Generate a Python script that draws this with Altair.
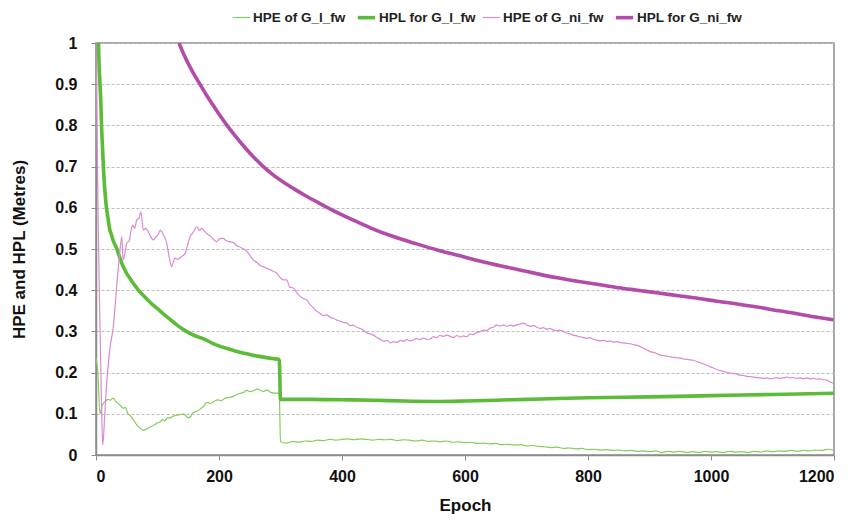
import altair as alt
import pandas as pd

SERIES = ["HPE of G_l_fw", "HPL for G_l_fw", "HPE of G_ni_fw", "HPL for G_ni_fw"]
COLORS = ["#86cc5a", "#5dbb3a", "#d98ad0", "#b34ba8"]
WIDTHS = [1.2, 3.6, 1.2, 3.6]

# HPE of G_l_fw
hpe_l_x = [0, 3, 6.5, 10, 15, 20, 23, 28, 32, 36, 40, 44, 48, 52, 56, 60, 64, 68, 72, 77, 82, 88, 94, 99,
           104, 108, 112, 116, 120, 125, 130, 136, 142, 146, 150, 154, 158, 164, 170, 176, 180, 186, 192, 198,
           204, 210, 218, 224, 230, 236, 240, 245, 250, 256, 262, 267, 272, 278, 284, 291, 296, 298,
           300, 310, 320, 330, 340, 350, 360, 370, 380, 390, 400, 410, 420, 430, 440, 450, 460, 470, 480, 490,
           500, 510, 520, 530, 540, 550, 560, 570, 580, 590, 600, 610, 620, 630, 640, 650, 660, 670, 680, 690,
           700, 710, 720, 730, 740, 750, 760, 770, 780, 790, 800, 810, 820, 830, 840, 850, 860, 870, 880, 890,
           900, 910, 920, 930, 940, 950, 960, 970, 980, 990, 1000, 1010, 1020, 1030, 1040, 1050, 1060, 1070,
           1080, 1090, 1100, 1110, 1120, 1130, 1140, 1150, 1160, 1170, 1180, 1190, 1200]
hpe_l_y = [0.238, 0.2, 0.10, 0.12, 0.13, 0.135, 0.133, 0.138, 0.13, 0.125, 0.12, 0.114, 0.115, 0.10, 0.095,
           0.087, 0.078, 0.07, 0.065, 0.06, 0.063, 0.068, 0.072, 0.077, 0.08, 0.086, 0.083, 0.09, 0.09, 0.094,
           0.096, 0.098, 0.10, 0.095, 0.09, 0.094, 0.103, 0.106, 0.112, 0.12, 0.128, 0.125, 0.13, 0.134, 0.132,
           0.138, 0.14, 0.143, 0.148, 0.15, 0.152, 0.157, 0.154, 0.156, 0.16, 0.157, 0.154, 0.158, 0.152, 0.15,
           0.15, 0.148,
           0.032, 0.029, 0.033, 0.031, 0.034, 0.033, 0.036, 0.035, 0.038, 0.036, 0.038, 0.039, 0.037, 0.039,
           0.038, 0.036, 0.038, 0.037, 0.038, 0.035, 0.037, 0.036, 0.034, 0.036, 0.033, 0.034, 0.032, 0.034,
           0.031, 0.032, 0.030, 0.031, 0.028, 0.029, 0.027, 0.028, 0.025, 0.026, 0.024, 0.025, 0.022, 0.023,
           0.021, 0.020, 0.018, 0.019, 0.016, 0.017, 0.015, 0.016, 0.013, 0.014, 0.012, 0.013, 0.011, 0.012,
           0.010, 0.011, 0.009, 0.010, 0.008, 0.010, 0.006, 0.009, 0.007, 0.009, 0.006, 0.008, 0.006, 0.009,
           0.007, 0.008, 0.006, 0.009, 0.007, 0.008, 0.006, 0.009, 0.007, 0.010, 0.008, 0.010, 0.009, 0.011,
           0.009, 0.011, 0.010, 0.012, 0.011, 0.014, 0.012]

# HPL for G_l_fw
hpl_l_x = [4, 5, 6.5, 8, 9, 10.5, 12, 14, 17, 19.5, 22, 25, 28, 31, 34, 38, 42, 46, 50, 55, 60, 64, 69, 77, 85,
           92, 100, 110, 120, 133, 147, 160, 175, 187, 200, 212, 225, 237, 250, 262, 275, 287, 298,
           300, 350, 400, 450, 500, 560, 600, 650, 700, 750, 800, 900, 1000, 1100, 1200]
hpl_l_y = [1.0, 0.95, 0.9, 0.85, 0.8, 0.75, 0.7, 0.65, 0.6, 0.575, 0.55, 0.535, 0.52, 0.51, 0.5, 0.482, 0.465,
           0.452, 0.44, 0.429, 0.418, 0.41, 0.4, 0.387, 0.375, 0.365, 0.355, 0.342, 0.33, 0.314, 0.3, 0.29,
           0.282, 0.273, 0.265, 0.259, 0.253, 0.248, 0.244, 0.24, 0.237, 0.234, 0.232,
           0.135, 0.135, 0.134, 0.133, 0.131, 0.130, 0.131, 0.133, 0.135, 0.137, 0.139, 0.141, 0.144, 0.147, 0.150]

# HPE of G_ni_fw
hpe_ni_x = [0, 1.5, 3, 6, 9, 11, 14, 17, 20, 23, 26, 28, 31, 34, 38, 42, 44, 47, 50, 54, 57, 60, 63, 66, 70,
            73, 77, 81, 85, 89, 93, 97, 101, 104, 107, 111, 115, 119, 123, 126, 128, 133, 139, 145, 149, 153,
            158, 164, 168, 172, 177, 182, 187, 192, 196, 201, 207, 212, 218, 224, 229, 234, 240, 245, 250, 256,
            261, 267, 272, 278, 283, 288, 294, 300, 305, 310, 315, 321, 326, 332, 337, 343, 348, 353, 358, 364,
            370, 375, 381, 386, 392, 397, 402, 408, 413, 418, 424, 429, 435, 440, 446, 451, 457, 462, 468, 473,
            479, 484, 489, 495, 500, 505, 510, 516, 521, 527, 532, 538, 543, 548, 554, 559, 565, 570, 576, 581,
            587, 592, 597, 603, 608, 613, 619, 624, 630, 635, 641, 646, 652, 657, 663, 668, 674, 679, 684, 690,
            695, 700, 706, 711, 717, 722, 727, 733, 738, 744, 749, 754, 760, 765, 771, 776, 782, 787, 793, 798,
            803, 809, 814, 820, 825, 831, 836, 841, 847, 852, 858, 863, 869, 874, 880, 885, 890, 896, 901, 907,
            912, 917, 923, 928, 934, 939, 945, 950, 956, 961, 966, 971, 977, 982, 988, 993, 999, 1004, 1010,
            1015, 1020, 1026, 1031, 1036, 1042, 1047, 1053, 1058, 1064, 1069, 1075, 1080, 1085, 1091, 1096,
            1101, 1107, 1112, 1118, 1123, 1129, 1134, 1140, 1145, 1150, 1156, 1161, 1166, 1172, 1177, 1183,
            1188, 1193, 1199]
hpe_ni_y = [1.0, 0.82, 0.62, 0.35, 0.12, 0.024, 0.09, 0.166, 0.22, 0.263, 0.29, 0.31, 0.36, 0.417, 0.48, 0.53,
            0.473, 0.49, 0.514, 0.52, 0.545, 0.558, 0.55, 0.57, 0.575, 0.59, 0.546, 0.55, 0.542, 0.53, 0.522,
            0.528, 0.535, 0.545, 0.542, 0.53, 0.514, 0.48, 0.457, 0.47, 0.478, 0.475, 0.481, 0.49, 0.51, 0.53,
            0.54, 0.554, 0.545, 0.55, 0.542, 0.535, 0.53, 0.522, 0.518, 0.525, 0.526, 0.52, 0.518, 0.515, 0.508,
            0.505, 0.50, 0.495, 0.485, 0.473, 0.468, 0.46, 0.457, 0.453, 0.45, 0.446, 0.441, 0.43, 0.425, 0.425,
            0.408, 0.405, 0.395, 0.385, 0.38, 0.376, 0.365, 0.358, 0.35, 0.344, 0.338, 0.34, 0.334, 0.332, 0.327,
            0.325, 0.322, 0.32, 0.314, 0.315, 0.31, 0.307, 0.303, 0.297, 0.294, 0.291, 0.285, 0.281, 0.276,
            0.278, 0.272, 0.275, 0.273, 0.278, 0.276, 0.28, 0.277, 0.279, 0.283, 0.28, 0.284, 0.281, 0.281,
            0.287, 0.285, 0.29, 0.288, 0.291, 0.288, 0.285, 0.29, 0.286, 0.289, 0.287, 0.294, 0.292, 0.297,
            0.299, 0.303, 0.302, 0.308, 0.31, 0.316, 0.313, 0.316, 0.312, 0.315, 0.313, 0.316, 0.318, 0.32,
            0.316, 0.313, 0.314, 0.31, 0.307, 0.309, 0.305, 0.307, 0.303, 0.302, 0.303, 0.3, 0.296, 0.294,
            0.291, 0.289, 0.287, 0.285, 0.283, 0.285, 0.281, 0.279, 0.277, 0.278, 0.276, 0.277, 0.274, 0.275,
            0.273, 0.272, 0.271, 0.27, 0.268, 0.266, 0.263, 0.259, 0.255, 0.251, 0.249, 0.246, 0.243, 0.241,
            0.24, 0.238, 0.237, 0.236, 0.235, 0.233, 0.232, 0.231, 0.23, 0.227, 0.224, 0.221, 0.218, 0.214,
            0.211, 0.207, 0.205, 0.203, 0.2, 0.199, 0.198, 0.196, 0.194, 0.193, 0.191, 0.19, 0.189, 0.188,
            0.187, 0.186, 0.187, 0.185, 0.186, 0.188, 0.186, 0.187, 0.189, 0.187, 0.188, 0.186, 0.187, 0.185,
            0.187, 0.185, 0.186, 0.184, 0.185, 0.183, 0.182, 0.178, 0.174]

# HPL for G_ni_fw
hpl_ni_x = [135, 142, 150, 159, 169, 179, 190, 201, 213, 226, 240, 255, 272, 288, 305, 322, 340, 362, 385, 407,
            429, 455, 480, 520, 559, 590, 620, 655, 689, 720, 750, 785, 820, 850, 880, 915, 950, 980, 1010,
            1045, 1080, 1110, 1140, 1170, 1199]
hpl_ni_y = [1.0, 0.975, 0.95, 0.925, 0.9, 0.875, 0.85, 0.825, 0.8, 0.775, 0.75, 0.725, 0.7, 0.68, 0.662, 0.646,
            0.63, 0.612, 0.594, 0.578, 0.563, 0.546, 0.532, 0.513, 0.496, 0.484, 0.472, 0.46, 0.449, 0.439, 0.43,
            0.421, 0.413, 0.406, 0.4, 0.393, 0.386, 0.38, 0.373, 0.366, 0.358, 0.35, 0.343, 0.335, 0.328]

frames = []
for name, xs, ys in [(SERIES[0], hpe_l_x, hpe_l_y), (SERIES[1], hpl_l_x, hpl_l_y),
                     (SERIES[2], hpe_ni_x, hpe_ni_y), (SERIES[3], hpl_ni_x, hpl_ni_y)]:
    frames.append(pd.DataFrame({"epoch": xs, "value": ys, "series": name}))
df = pd.concat(frames, ignore_index=True)

FONT = "Liberation Sans"

legend_common = dict(title=None, orient="none", legendX=136, legendY=-36,
                     direction="horizontal", symbolType="stroke", symbolSize=300,
                     labelFont=FONT, labelFontSize=13.5, labelFontWeight="bold",
                     labelColor="#222", columnPadding=4, labelOffset=2, labelLimit=0)

chart = alt.Chart(df).mark_line(clip=True, interpolate="monotone").encode(
    x=alt.X("epoch:Q", scale=alt.Scale(domain=[0, 1200], nice=False),
            axis=alt.Axis(values=[0, 200, 400, 600, 800, 1000, 1200], format="d", title="Epoch", grid=False,
                          labelPadding=8, titlePadding=13)),
    y=alt.Y("value:Q", scale=alt.Scale(domain=[0, 1], nice=False),
            axis=alt.Axis(values=[0, 0.1, 0.2, 0.3, 0.4, 0.5, 0.6, 0.7, 0.8, 0.9, 1], format="~g",
                          title="HPE and HPL (Metres)", labelPadding=14, titlePadding=26)),
    color=alt.Color("series:N", sort=SERIES, scale=alt.Scale(domain=SERIES, range=COLORS),
                    legend=alt.Legend(**legend_common)),
    strokeWidth=alt.StrokeWidth("series:N", sort=SERIES,
                                scale=alt.Scale(type="ordinal", domain=SERIES, range=WIDTHS),
                                legend=alt.Legend(**legend_common)),
    detail="series:N",
).properties(
    width=738, height=412,
    autosize=alt.AutoSizeParams(type="none"),
    padding={"left": 88, "top": 35, "right": 18, "bottom": 64},
).configure_view(
    stroke="#8c8c8c", strokeWidth=1.5
).configure_axis(
    labelFont=FONT, labelFontSize=16, labelFontWeight="bold", labelColor="#111",
    titleFont=FONT, titleFontSize=17, titleFontWeight="bold", titleColor="#111",
    domainColor="#8c8c8c", domainWidth=1.5, tickColor="#8c8c8c", tickSize=5,
    gridColor="#bdbdbd", gridDash=[3, 2], gridWidth=1,
)

chart.save("out.html", embed_options={"renderer": "svg", "actions": False})
